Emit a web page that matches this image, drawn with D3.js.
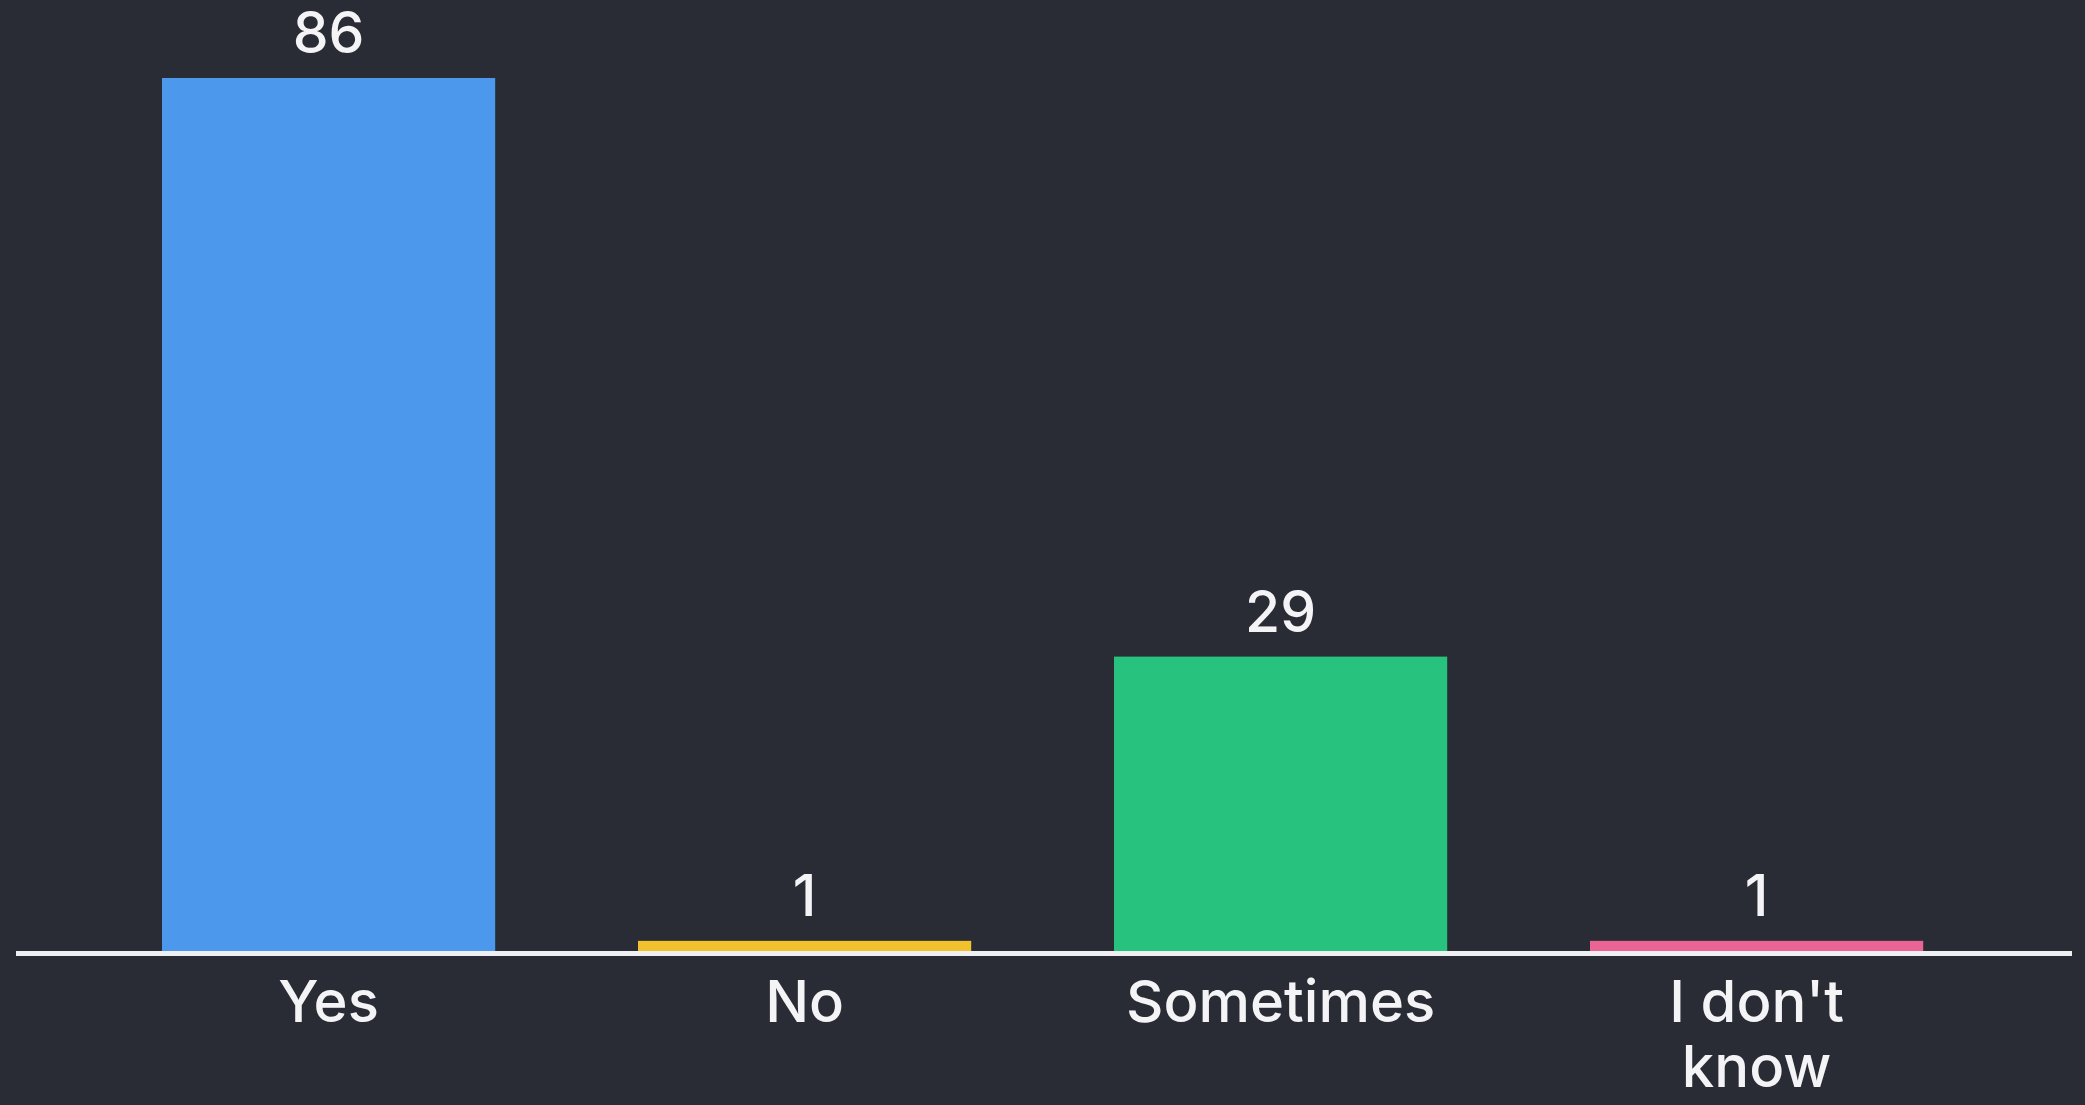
<!DOCTYPE html>
<html>
<head>
<meta charset="utf-8">
<script src="https://cdn.jsdelivr.net/npm/d3@7"></script>
<style>
  html, body { margin: 0; padding: 0; background: #292c35; }
  svg { display: block; }
</style>
</head>
<body>
<svg id="chart" width="2085" height="1105"></svg>
<script>
const categories = ["Yes", "No", "Sometimes", "I don't know"];
const values = [86, 1, 29, 1];
const colors = ["#4b98ec", "#f2c12e", "#27c27d", "#ea6594"];

const W = 2085, H = 1105;
const svg = d3.select("#chart");
svg.append("rect").attr("width", W).attr("height", H).attr("fill", "#292c35");

const baseY = 951;
const x = d3.scaleBand().domain(categories).range([90.6, 1994.6]).paddingInner(0.3).paddingOuter(0.15);
const y = d3.scaleLinear().domain([0, 86]).range([baseY, 78]);

const data = categories.map((c, i) => ({ c, v: values[i], col: colors[i] }));

svg.selectAll("rect.bar").data(data).join("rect")
  .attr("class", "bar")
  .attr("x", d => x(d.c))
  .attr("width", x.bandwidth())
  .attr("y", d => y(d.v))
  .attr("height", d => y(0) - y(d.v))
  .attr("fill", d => d.col);

// baseline axis
const axis = d3.axisBottom(x).tickSize(0).tickPadding(0);
const gAxis = svg.append("g").attr("transform", `translate(0,${baseY})`).call(axis);
gAxis.select(".domain").remove();
gAxis.append("line")
  .attr("x1", 16).attr("x2", 2072).attr("y1", 2.5).attr("y2", 2.5)
  .attr("stroke", "#eeeff3").attr("stroke-width", 5);

gAxis.selectAll(".tick text")
  .attr("fill", "#f4f4f7")
  .attr("font-family", "Inter, 'Noto Sans', sans-serif")
  .attr("font-weight", 500)
  .attr("font-size", 58)
  .attr("dy", null)
  .attr("y", 71)
  .each(function(d) {
    const t = d3.select(this);
    const words = d.split(" ");
    const lines = [];
    let cur = [];
    t.text(null);
    const probe = t.append("tspan");
    words.forEach(w => {
      const test = cur.concat([w]).join(" ");
      probe.text(test);
      if (cur.length && probe.node().getComputedTextLength() > 320) {
        lines.push(cur.join(" "));
        cur = [w];
      } else cur.push(w);
    });
    lines.push(cur.join(" "));
    probe.remove();
    lines.forEach((ln, i) => {
      t.append("tspan").attr("x", 0).attr("y", 71 + i * 65).text(ln);
    });
  });

// value labels
svg.selectAll("text.val").data(data).join("text")
  .attr("class", "val")
  .attr("x", d => x(d.c) + x.bandwidth() / 2)
  .attr("y", d => y(d.v) - 25)
  .attr("text-anchor", "middle")
  .attr("fill", "#f4f4f7")
  .attr("font-family", "Inter, 'Noto Sans', sans-serif")
  .attr("font-weight", 500)
  .attr("font-size", 57)
  .text(d => d.v);
</script>
</body>
</html>
